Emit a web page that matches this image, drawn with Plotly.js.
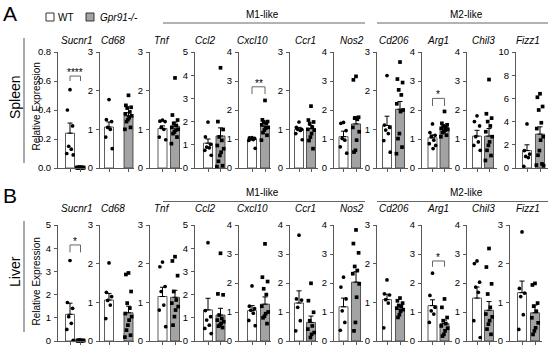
<!DOCTYPE html>
<html><head><meta charset="utf-8">
<script src="https://cdn.plot.ly/plotly-3.0.1.min.js"></script>
<style>html,body{margin:0;padding:0;background:#fff}#chart{width:550px;height:350px}</style>
</head><body><div id="chart"></div>
<script>
// ---------------- DATA ----------------
const genes = ['Sucnr1','Cd68','Tnf','Ccl2','Cxcl10','Ccr1','Nos2','Cd206','Arg1','Chil3','Fizz1'];
const groupLabels = ['WT','Gpr91-/-'];
const tissues = ['Spleen','Liver'];
const panelLetters = ['A','B'];
const m1Label = 'M1-like', m2Label = 'M2-like';
const yTitle = 'Relative Expression';

const spleenYMax  = [0.8,3,3,5,4,3,4,3,4,4,10];
const spleenYStep = [0.2,1,1,1,1,1,1,1,1,1,2];
const liverYMax   = [5,3,3,5,4,4,4,3,4,4,3];
const liverYStep  = [1,1,1,1,1,1,1,1,1,1,1];

const spleenWTMean = [0.24,1.06,1.02,1.07,1.00,1.00,1.08,1.10,1.04,1.10,1.50];
const spleenWTSem  = [0.07,0.13,0.07,0.18,0.04,0.05,0.19,0.24,0.10,0.20,0.50];
const spleenKOMean = [0.003,1.35,1.08,1.38,1.44,1.02,1.52,1.52,1.39,1.10,2.92];
const spleenKOSem  = [0.001,0.08,0.11,0.35,0.10,0.08,0.25,0.20,0.08,0.26,0.63];
const spleenWTDots = [
  [0.54,0.40,0.29,0.15,0.13,0.10,0.09],
  [1.77,1.25,1.20,1.05,1.00,0.80,0.50],
  [1.24,1.21,1.20,1.05,1.00,0.80,0.73],
  [1.98,1.34,1.02,0.90,0.87,0.76,0.55],
  [1.05,1.04,1.02,1.00,0.98,0.95,0.68],
  [1.19,1.05,1.00,1.00,0.97,0.89,0.73],
  [1.57,1.54,1.29,1.02,0.96,0.73,0.51],
  [2.39,1.11,1.05,0.98,0.89,0.71,0.41],
  [1.52,1.22,1.13,1.08,0.96,0.84,0.78,0.67],
  [1.80,1.60,1.45,1.08,0.90,0.78,0.61],
  [3.80,1.50,1.20,1.00,0.90,0.15]
];
const spleenKODots = [
  [0.004,0.003,0.002,0.003,0.004,0.002,0.003,0.002,0.004,0.003,0.002,0.003],
  [1.88,1.62,1.57,1.55,1.45,1.40,1.35,1.30,1.25,1.20,1.05,1.00],
  [2.33,1.37,1.24,1.15,1.10,1.05,1.00,0.98,0.93,0.89,0.80,0.63],
  [4.32,2.00,1.66,1.34,1.19,0.97,0.83,0.68,0.54,0.29,0.10,0.06],
  [2.33,1.66,1.60,1.59,1.54,1.49,1.40,1.37,1.31,1.22,1.13,0.96],
  [1.60,1.24,1.19,1.15,1.05,1.00,0.98,0.89,0.80,0.71,0.50],
  [3.16,3.04,1.75,1.72,1.68,1.40,1.25,0.96,0.61,0.55],
  [2.74,2.30,2.21,2.02,1.89,1.66,1.50,1.46,0.89,0.76,0.54,0.37],
  [1.95,1.54,1.49,1.45,1.40,1.37,1.33,1.31,1.25,1.22,1.13,1.08],
  [3.05,1.87,1.72,1.60,1.45,1.25,1.08,0.90,0.78,0.61,0.43,0.26],
  [6.40,6.10,5.30,5.00,3.90,3.40,2.70,2.40,1.50,1.10,0.35,0.25,0.20]
];

const liverWTMean = [1.15,1.06,1.15,1.34,1.05,1.31,1.18,1.07,1.22,1.48,1.25];
const liverWTSem  = [0.48,0.17,0.24,0.50,0.17,0.42,0.30,0.14,0.20,0.38,0.30];
const liverKOMean = [0.02,0.73,1.13,1.12,1.27,0.64,2.03,0.82,0.60,1.06,0.73];
const liverKOSem  = [0.005,0.17,0.18,0.29,0.25,0.22,0.36,0.07,0.12,0.30,0.20];
const liverWTDots = [
  [3.47,1.66,1.41,1.05,0.76,0.50,0.03],
  [2.02,1.26,1.15,1.05,0.93,0.58],
  [2.04,1.92,1.41,1.28,0.93,0.80,0.37],
  [4.24,1.31,1.05,0.90,0.68,0.54,0.32],
  [1.90,1.20,1.12,1.06,0.96,0.71,0.53],
  [3.65,1.45,1.41,1.16,0.70,0.35],
  [2.20,1.86,1.45,1.04,0.64,0.37],
  [1.58,1.22,1.19,1.07,0.98,0.34],
  [2.34,1.57,1.16,1.04,0.93,0.64],
  [2.76,2.67,2.03,1.86,1.68,0.70,0.12],
  [2.82,1.36,1.24,1.15,0.68,0.30]
];
const liverKODots = [
  [0.02,0.01,0.02,0.03,0.01,0.02,0.02,0.01,0.03,0.02],
  [1.76,1.72,1.28,0.98,0.85,0.71,0.63,0.54,0.41,0.28,0.15,0.10],
  [2.18,2.07,1.69,1.28,1.06,0.98,0.89,0.80,0.63,0.41],
  [3.78,2.03,1.99,1.12,0.97,0.90,0.83,0.76,0.68,0.64,0.58],
  [3.35,2.20,2.05,1.80,1.60,1.20,1.00,0.94,0.85,0.80,0.60],
  [1.99,1.39,0.99,0.70,0.52,0.41,0.29,0.23,0.12],
  [3.83,3.36,3.04,2.57,2.43,2.32,1.97,1.51,0.64,0.35],
  [1.11,1.04,0.98,0.92,0.90,0.85,0.81,0.77,0.68,0.61],
  [1.45,1.16,0.81,0.70,0.60,0.52,0.44,0.35,0.23,0.17],
  [3.19,2.55,1.97,1.62,1.16,0.93,0.83,0.70,0.58,0.41,0.23],
  [1.49,1.45,0.98,0.90,0.77,0.60,0.47,0.34,0.26,0.17]
];

// significance: [panel index, stars, bracket leg bottom, bracket top]
const spleenSig = [[0,'****',0.60,0.634],[4,'**',2.55,2.80],[8,'*',2.14,2.40]];
const liverSig  = [[0,'*',3.82,4.14],[8,'*',2.56,2.76]];

// ---------------- GEOMETRY (pixels) ----------------
const W = 550, H = 350;
const FONT = 'Liberation Sans, Arial, Helvetica, sans-serif';
const AX = '#595959';
const INK = '#000000';
const baseAxisX = [58,100,150,195,239,290,334,377,422,467,516];
const baseWtX   = [70,109,162.5,208,252,299,343.5,387,432.5,477,527];
const baseKoX   = [80.5,128.5,175,220.5,265,311,356,400,444.5,489,540];
const baseEndX  = [86,134,182,227,271,318,363,408,452,497,548];
const titleX    = [77,113,162,205,252,305,352,394,438,483,528];

const rows = [
  {tissue:0, top:52, bottom:168, titleY:41, headY:15, lineY:23, letterY:13, sideY:[38,163], labelY:97, relY:107,
   axisX:baseAxisX, wtX:baseWtX, koX:baseKoX, endX:baseEndX,
   ymax:spleenYMax, ystep:spleenYStep, wtMean:spleenWTMean, wtSem:spleenWTSem, koMean:spleenKOMean, koSem:spleenKOSem,
   wtDots:spleenWTDots, koDots:spleenKODots, sig:spleenSig},
  {tissue:1, top:225, bottom:341, titleY:208, headY:193, lineY:201.5, letterY:195, sideY:[221,332], labelY:272, relY:282,
   axisX:baseAxisX.slice(0,10).concat([510]), wtX:baseWtX.slice(0,10).concat([522]),
   koX:baseKoX.slice(0,10).concat([535]), endX:baseEndX.slice(0,10).concat([542]),
   ymax:liverYMax, ystep:liverYStep, wtMean:liverWTMean, wtSem:liverWTSem, koMean:liverKOMean, koSem:liverKOSem,
   wtDots:liverWTDots, koDots:liverKODots, sig:liverSig}
];

const px = x => x / W;
const py = y => 1 - y / H;
const jit = [0,-2.6,2.6,-1.3,1.3,-3.2,3.2,0.6,-0.6,-2,2,-3.6,3.6];

const data = [];
const shapes = [];
const annotations = [];
const layout = {
  width: W, height: H, margin:{l:0,r:0,t:0,b:0},
  paper_bgcolor:'#fff', plot_bgcolor:'rgba(0,0,0,0)',
  showlegend:false, font:{family:FONT, color:INK, size:10},
  bargap:0
};

rows.forEach((R, r) => {
  for (let i = 0; i < genes.length; i++) {
    const k = r * genes.length + i + 1;
    const sx = k === 1 ? '' : String(k);
    const xa = 'x' + sx, ya = 'y' + sx;
    const a = R.axisX[i], c0 = R.wtX[i], c1 = R.koX[i], e = R.endX[i];
    const s = c1 - c0;
    layout['xaxis' + sx] = {
      domain:[px(a), px(e)], range:[(a - c0) / s, (e - c0) / s], anchor:ya,
      showline:true, linecolor:AX, linewidth:1, ticks:'outside', ticklen:3, tickwidth:1, tickcolor:AX,
      tickvals:[0,1], showticklabels:false, showgrid:false, zeroline:false, fixedrange:true
    };
    const ymax = R.ymax[i], step = R.ystep[i];
    const tv = [];
    for (let v = 0; v <= ymax + 1e-9; v += step) tv.push(+v.toFixed(2));
    layout['yaxis' + sx] = {
      domain:[py(R.bottom), py(R.top)], range:[0, ymax], anchor:xa,
      showline:true, linecolor:AX, linewidth:1, ticks:'outside', ticklen:3, tickwidth:1, tickcolor:AX,
      tickvals:tv, tickformat: step < 1 ? '.1f' : 'd', tickfont:{size:9.5, color:INK, family:FONT},
      showgrid:false, zeroline:false, fixedrange:true, ticklabelstandoff:1
    };
    data.push({
      type:'bar', xaxis:xa, yaxis:ya, x:[0,1], y:[R.wtMean[i], R.koMean[i]], width:9 / s,
      marker:{color:['#ffffff','#a3a3a3'], line:{color:'#333', width:0.8}},
      error_y:{type:'data', symmetric:false, array:[R.wtSem[i], R.koSem[i]], arrayminus:[0,0], color:INK, thickness:1, width:2.5},
      hoverinfo:'skip'
    });
    [[R.wtDots[i], 0, 'circle'], [R.koDots[i], 1, 'square']].forEach(([vals, gx, sym]) => {
      data.push({
        type:'scatter', mode:'markers', xaxis:xa, yaxis:ya, cliponaxis:false,
        x: vals.map((v, j) => gx + jit[j % jit.length] / s), y: vals,
        marker:{symbol:sym, size:3.7, color:INK, line:{width:0}}, hoverinfo:'skip'
      });
    });
    annotations.push({xref:'paper', yref:'paper', x:px(titleX[i]), y:py(R.titleY), text:'<i>' + genes[i] + '</i>',
      showarrow:false, xanchor:'center', yanchor:'middle', font:{size:10, color:INK}});
  }
  // significance brackets
  R.sig.forEach(([i, stars, lo, hi]) => {
    const k = r * genes.length + i + 1;
    const sx = k === 1 ? '' : String(k);
    shapes.push({type:'path', xref:'x' + sx, yref:'y' + sx,
      path:`M0,${lo} L0,${hi} L1,${hi} L1,${lo}`, line:{color:'#666666', width:1}});
    annotations.push({xref:'x' + sx, yref:'y' + sx, x:0.5, y:hi, text:stars, showarrow:false,
      xanchor:'center', yanchor:'bottom', yshift:-4, font:{size:10, color:INK}});
  });
  // group headers
  shapes.push({type:'line', xref:'paper', yref:'paper', x0:px(163), x1:px(365), y0:py(R.lineY), y1:py(R.lineY), line:{color:'#666', width:1}});
  shapes.push({type:'line', xref:'paper', yref:'paper', x0:px(377), x1:px(548), y0:py(R.lineY), y1:py(R.lineY), line:{color:'#666', width:1}});
  annotations.push({xref:'paper', yref:'paper', x:px(262), y:py(R.headY), text:m1Label, showarrow:false, xanchor:'center', yanchor:'middle', font:{size:10, color:INK}});
  annotations.push({xref:'paper', yref:'paper', x:px(466), y:py(R.headY), text:m2Label, showarrow:false, xanchor:'center', yanchor:'middle', font:{size:10, color:INK}});
  // tissue side label
  shapes.push({type:'line', xref:'paper', yref:'paper', x0:px(24), x1:px(24), y0:py(R.sideY[0]), y1:py(R.sideY[1]), line:{color:'#555', width:1}});
  annotations.push({xref:'paper', yref:'paper', x:px(15), y:py(R.labelY), text:tissues[R.tissue], textangle:-90, showarrow:false, xanchor:'center', yanchor:'middle', font:{size:14, color:INK}});
  annotations.push({xref:'paper', yref:'paper', x:px(35.5), y:py(R.relY), text:yTitle, textangle:-90, showarrow:false, xanchor:'center', yanchor:'middle', font:{size:10, color:INK}});
  annotations.push({xref:'paper', yref:'paper', x:px(1), y:py(R.letterY), text:panelLetters[R.tissue], showarrow:false, xanchor:'left', yanchor:'middle', font:{size:21, color:INK}});
});

// legend
shapes.push({type:'rect', xref:'paper', yref:'paper', x0:px(46), x1:px(54), y0:py(21), y1:py(13), fillcolor:'#fff', line:{color:'#333', width:1}});
shapes.push({type:'rect', xref:'paper', yref:'paper', x0:px(86), x1:px(94), y0:py(21), y1:py(13), fillcolor:'#a3a3a3', line:{color:'#333', width:1}});
annotations.push({xref:'paper', yref:'paper', x:px(56), y:py(17), text:groupLabels[0], showarrow:false, xanchor:'left', yanchor:'middle', font:{size:10, color:INK}});
annotations.push({xref:'paper', yref:'paper', x:px(98), y:py(17), text:'<i>' + groupLabels[1] + '</i>', showarrow:false, xanchor:'left', yanchor:'middle', font:{size:10, color:INK}});

layout.shapes = shapes;
layout.annotations = annotations;
Plotly.newPlot('chart', data, layout, {staticPlot:true, displayModeBar:false});
</script></body></html>
